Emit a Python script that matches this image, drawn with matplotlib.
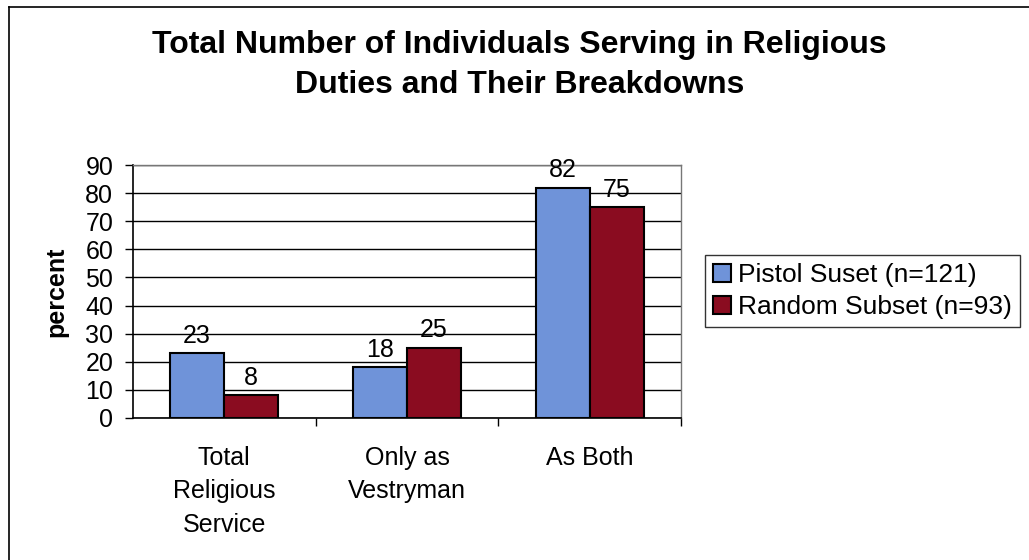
import matplotlib.pyplot as plt
import numpy as np
from matplotlib.lines import Line2D

plt.rcParams['font.family'] = ['Liberation Sans', 'DejaVu Sans']

categories = ['Total\nReligious\nService', 'Only as\nVestryman', 'As Both']
pistol = [23, 18, 82]
random_subset = [8, 25, 75]
series_names = ['Pistol Suset (n=121)', 'Random Subset (n=93)']

blue = '#6f93d9'
red = '#8a0c20'

fig = plt.figure(figsize=(10.29, 5.60), dpi=100)
ax = fig.add_axes([0.129, 0.254, 0.533, 0.451])

x = np.arange(len(categories))
w = 0.295
b1 = ax.bar(x - w / 2, pistol, w, color=blue, edgecolor='black', linewidth=1.5,
            label=series_names[0], zorder=3)
b2 = ax.bar(x + w / 2, random_subset, w, color=red, edgecolor='black', linewidth=1.5,
            label=series_names[1], zorder=3)

for bars, vals in ((b1, pistol), (b2, random_subset)):
    for rect, v in zip(bars, vals):
        ax.annotate(str(v), (rect.get_x() + rect.get_width() / 2, v),
                    xytext=(0, 4), textcoords='offset points',
                    ha='center', va='bottom', fontsize=18, zorder=4,
                    annotation_clip=False)

ax.set_xlim(-0.5, 2.5)
ax.set_ylim(0, 90)
ax.set_yticks(range(0, 91, 10))
ax.yaxis.grid(True, color='black', linewidth=1)
ax.set_axisbelow(True)
ax.tick_params(axis='y', labelsize=18, direction='out', length=6, width=1, pad=8)

ax.set_xticks(x)
ax.set_xticklabels(categories, fontsize=18, linespacing=1.5)
ax.tick_params(axis='x', length=0, pad=20)
ax.set_xticks([0.5, 1.5, 2.5], minor=True)
ax.tick_params(axis='x', which='minor', length=6, width=1, direction='out')

ax.set_ylabel('percent', fontsize=18, fontweight='bold', labelpad=12)

for s in ('left', 'bottom'):
    ax.spines[s].set_color('black')
    ax.spines[s].set_linewidth(1.2)
for s in ('right', 'top'):
    ax.spines[s].set_color('#777777')
    ax.spines[s].set_linewidth(1)

fig.text(0.505, 0.884, 'Total Number of Individuals Serving in Religious\nDuties and Their Breakdowns',
         ha='center', va='center', fontsize=23, fontweight='bold', linespacing=1.45)

leg = fig.legend(handles=[b1, b2], loc='center left', bbox_to_anchor=(0.685, 0.48),
                 fontsize=19, frameon=True, fancybox=False, edgecolor='black',
                 handlelength=0.7, handleheight=0.7, handletextpad=0.25,
                 borderpad=0.3, labelspacing=0.3, borderaxespad=0)
leg.get_frame().set_linewidth(1)

# outer chart border (only left and top visible in the scan)
fig.add_artist(Line2D([0.009, 0.009], [0.0, 0.988], transform=fig.transFigure,
                      color='black', linewidth=1.2))
fig.add_artist(Line2D([0.009, 1.0], [0.988, 0.988], transform=fig.transFigure,
                      color='black', linewidth=1.2))

fig.savefig('out.png', dpi=100, facecolor='white')
